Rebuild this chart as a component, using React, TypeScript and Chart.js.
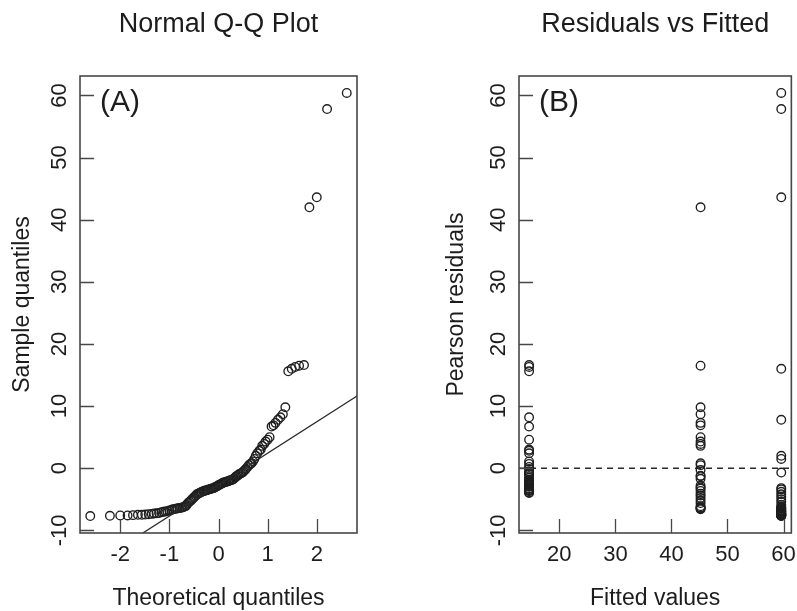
import React, { useEffect, useRef } from "react";
import { Chart, registerables } from "chart.js";

Chart.register(...registerables);

const FONT = '"Liberation Sans", Arial, Helvetica, sans-serif';
const INK = "#1c1c1c";
const FRAME = "#474747";

// ---------- Panel (A): Normal Q-Q plot ----------
// Theoretical normal quantiles for n = 110 (read off the x positions)
const theoreticalQuantiles = [
  -2.61, -2.21, -2.0, -1.85, -1.74, -1.64, -1.56, -1.49, -1.42, -1.36,
  -1.31, -1.26, -1.21, -1.16, -1.12, -1.08, -1.04, -1.0, -0.96, -0.93,
  -0.89, -0.86, -0.83, -0.79, -0.76, -0.73, -0.7, -0.67, -0.65, -0.62,
  -0.59, -0.56, -0.54, -0.51, -0.49, -0.46, -0.44, -0.41, -0.39, -0.36,
  -0.34, -0.31, -0.29, -0.27, -0.24, -0.22, -0.2, -0.17, -0.15, -0.13,
  -0.1, -0.08, -0.06, -0.03, -0.01,
  0.01, 0.03, 0.06, 0.08, 0.1, 0.13, 0.15, 0.17, 0.2, 0.22,
  0.24, 0.27, 0.29, 0.31, 0.34, 0.36, 0.39, 0.41, 0.44, 0.46,
  0.49, 0.51, 0.54, 0.56, 0.59, 0.62, 0.65, 0.67, 0.7, 0.73,
  0.76, 0.79, 0.83, 0.86, 0.89, 0.93, 0.96, 1.0, 1.04, 1.08,
  1.12, 1.16, 1.21, 1.26, 1.31, 1.36, 1.42, 1.49, 1.56, 1.64,
  1.74, 1.85, 2.0, 2.21, 2.61,
];

// ---------- Panel (B): Pearson residuals by fitted value ----------
const fittedValues = [14.6, 45.2, 59.6];
const residualsLow = [
  16.6, 16.3, 15.6, 8.2, 6.7, 4.6, 3.0, 2.8, 2.4, 1.1, 0.7, 0.2, -0.1, -0.5,
  -0.8, -0.9, -1.0, -1.5, -1.8, -1.9, -1.95, -2.0, -2.1, -2.15, -2.2, -2.25,
  -2.3, -2.4, -2.5, -2.6, -2.7, -2.9, -3.0, -3.25, -3.35, -3.5, -3.55, -3.6,
  -3.7, -3.9, -4.0,
];
const residualsMid = [
  42.0, 16.5, 9.8, 8.7, 7.3, 6.9, 5.0, 4.3, 3.9, 3.6, 0.8, 0.5, -0.3, -1.2,
  -1.3, -1.7, -2.8, -3.1, -3.3, -3.65, -4.1, -4.4, -4.8, -5.2, -5.6, -6.1,
  -6.3, -6.4, -6.5, -6.6,
];
const residualsHigh = [
  60.4, 57.8, 43.6, 16.0, 7.8, 2.0, 1.5, -0.7, -3.2, -3.4, -3.8, -4.2, -4.6,
  -5.0, -5.4, -5.9, -6.2, -6.35, -6.45, -6.55, -6.7, -6.8, -6.9, -6.95, -7.0,
  -7.1, -7.2, -7.25, -7.3, -7.35, -7.4, -7.45, -7.5, -7.5, -7.55, -7.6, -7.6,
  -7.65, -7.7,
];
const residualGroups = [residualsLow, residualsMid, residualsHigh];

// ---------- Axis ticks & texts ----------
const qqXTicks = [-2, -1, 0, 1, 2];
const residualTicks = [-10, 0, 10, 20, 30, 40, 50, 60];
const fittedTicks = [20, 30, 40, 50, 60];
const zeroLine = 0;

const titleA = "Normal Q-Q Plot";
const titleB = "Residuals vs Fitted";
const xLabelA = "Theoretical quantiles";
const yLabelA = "Sample quantiles";
const xLabelB = "Fitted values";
const yLabelB = "Pearson residuals";

// ---------- helpers (R-like behaviour) ----------
const extendRange = (vals: number[]) => {
  const lo = Math.min(...vals);
  const hi = Math.max(...vals);
  const d = (hi - lo) * 0.04;
  return [lo - d, hi + d];
};
const quantile7 = (sorted: number[], p: number) => {
  const h = (sorted.length - 1) * p;
  const lo = Math.floor(h);
  return sorted[lo] + (h - lo) * ((sorted[lo + 1] ?? sorted[lo]) - sorted[lo]);
};
const Z_QUARTILE = 0.6745;

type PanelCfg = {
  title: string;
  xLabel: string;
  yLabel: string;
  yLabelOffset: number;
  letter: string;
  xTicks: number[];
  yTicks: number[];
  refLine?: number;
};

const panelPlugin = (cfg: PanelCfg) => ({
  id: "rPanel",
  beforeDatasetsDraw(chart: any) {
    if (cfg.refLine === undefined) return;
    const { ctx, chartArea, scales } = chart;
    const py = scales.y.getPixelForValue(cfg.refLine);
    ctx.save();
    ctx.strokeStyle = "#2a2a2a";
    ctx.lineWidth = 1.3;
    ctx.setLineDash([6, 5]);
    ctx.beginPath();
    ctx.moveTo(chartArea.left, py);
    ctx.lineTo(chartArea.right, py);
    ctx.stroke();
    ctx.restore();
  },
  afterDraw(chart: any) {
    const { ctx, chartArea, scales } = chart;
    const { left, right, top, bottom } = chartArea;
    const sx = scales.x;
    const sy = scales.y;
    ctx.save();
    // frame
    ctx.strokeStyle = FRAME;
    ctx.lineWidth = 1.6;
    ctx.strokeRect(left, top, right - left, bottom - top);
    // inward ticks
    ctx.lineWidth = 1.3;
    ctx.beginPath();
    cfg.xTicks.forEach((v) => {
      const px = Math.round(sx.getPixelForValue(v)) + 0.5;
      ctx.moveTo(px, bottom);
      ctx.lineTo(px, bottom - 14);
    });
    cfg.yTicks.forEach((v) => {
      const py = Math.round(sy.getPixelForValue(v)) + 0.5;
      ctx.moveTo(left, py);
      ctx.lineTo(left + 14, py);
    });
    ctx.stroke();

    ctx.fillStyle = INK;
    // x tick labels
    ctx.font = `22px ${FONT}`;
    ctx.textAlign = "center";
    ctx.textBaseline = "alphabetic";
    cfg.xTicks.forEach((v) => {
      ctx.fillText(String(v), sx.getPixelForValue(v), bottom + 28);
    });
    // y tick labels (rotated, like R las = 0)
    cfg.yTicks.forEach((v) => {
      ctx.save();
      ctx.translate(left - 14, sy.getPixelForValue(v));
      ctx.rotate(-Math.PI / 2);
      ctx.fillText(String(v), 0, 0);
      ctx.restore();
    });
    // axis titles
    ctx.font = `23px ${FONT}`;
    ctx.fillText(cfg.xLabel, (left + right) / 2, bottom + 72);
    ctx.save();
    ctx.translate(left - cfg.yLabelOffset, (top + bottom) / 2);
    ctx.rotate(-Math.PI / 2);
    ctx.fillText(cfg.yLabel, 0, 0);
    ctx.restore();
    // main title
    ctx.font = `27px ${FONT}`;
    ctx.fillText(cfg.title, (left + right) / 2, 32);
    // panel letter
    ctx.font = `30px ${FONT}`;
    ctx.textAlign = "left";
    ctx.fillText(cfg.letter, left + 20, top + 35);
    ctx.restore();
  },
});

const pointStyle = {
  pointRadius: 4.3,
  pointHoverRadius: 4.3,
  pointBorderWidth: 1.35,
  pointBorderColor: "#1f1f1f",
  pointBackgroundColor: "rgba(0,0,0,0)",
};

export default function App() {
  const refA = useRef<HTMLCanvasElement | null>(null);
  const refB = useRef<HTMLCanvasElement | null>(null);

  useEffect(() => {
    const sampleQuantiles = residualGroups.flat().sort((a, b) => a - b);
    const q1 = quantile7(sampleQuantiles, 0.25);
    const q3 = quantile7(sampleQuantiles, 0.75);
    const slope = (q3 - q1) / (2 * Z_QUARTILE);
    const intercept = q1 + Z_QUARTILE * slope;

    const [xAMin, xAMax] = extendRange(theoreticalQuantiles);
    const [yMin, yMax] = extendRange(sampleQuantiles);
    const [xBMin, xBMax] = extendRange(fittedValues);

    const common = {
      responsive: false,
      animation: false as const,
      events: [] as any[],
      plugins: { legend: { display: false }, tooltip: { enabled: false } },
    };

    const chartA = new Chart(refA.current!, {
      type: "scatter",
      data: {
        datasets: [
          {
            data: [xAMin, xAMax].map((x) => ({ x, y: intercept + slope * x })),
            showLine: true,
            borderColor: "#2a2a2a",
            borderWidth: 1.3,
            pointRadius: 0,
          },
          {
            data: theoreticalQuantiles.map((x, i) => ({ x, y: sampleQuantiles[i] })),
            ...pointStyle,
          },
        ],
      },
      options: {
        ...common,
        layout: { padding: { left: 80, top: 76, right: 41, bottom: 78 } },
        scales: {
          x: { type: "linear", min: xAMin, max: xAMax, display: false },
          y: { type: "linear", min: yMin, max: yMax, display: false },
        },
      },
      plugins: [
        panelPlugin({
          title: titleA,
          xLabel: xLabelA,
          yLabel: yLabelA,
          yLabelOffset: 51,
          letter: "(A)",
          xTicks: qqXTicks,
          yTicks: residualTicks,
        }),
      ],
    } as any);

    const chartB = new Chart(refB.current!, {
      type: "scatter",
      data: {
        datasets: residualGroups.map((g, gi) => ({
          data: g.map((y) => ({ x: fittedValues[gi], y })),
          ...pointStyle,
        })),
      },
      options: {
        ...common,
        layout: { padding: { left: 121, top: 76, right: 5, bottom: 78 } },
        scales: {
          x: { type: "linear", min: xBMin, max: xBMax, display: false },
          y: { type: "linear", min: yMin, max: yMax, display: false },
        },
      },
      plugins: [
        panelPlugin({
          title: titleB,
          xLabel: xLabelB,
          yLabel: yLabelB,
          yLabelOffset: 56,
          letter: "(B)",
          xTicks: fittedTicks,
          yTicks: residualTicks,
          refLine: zeroLine,
        }),
      ],
    } as any);

    return () => {
      chartA.destroy();
      chartB.destroy();
    };
  }, []);

  return (
    <div
      style={{
        position: "absolute",
        left: 0,
        top: 0,
        width: 797,
        height: 611,
        background: "#ffffff",
        overflow: "hidden",
      }}
    >
      <canvas
        ref={refA}
        width={398}
        height={611}
        style={{ position: "absolute", left: 0, top: 0, width: 398, height: 611 }}
      />
      <canvas
        ref={refB}
        width={399}
        height={611}
        style={{ position: "absolute", left: 398, top: 0, width: 399, height: 611 }}
      />
    </div>
  );
}
